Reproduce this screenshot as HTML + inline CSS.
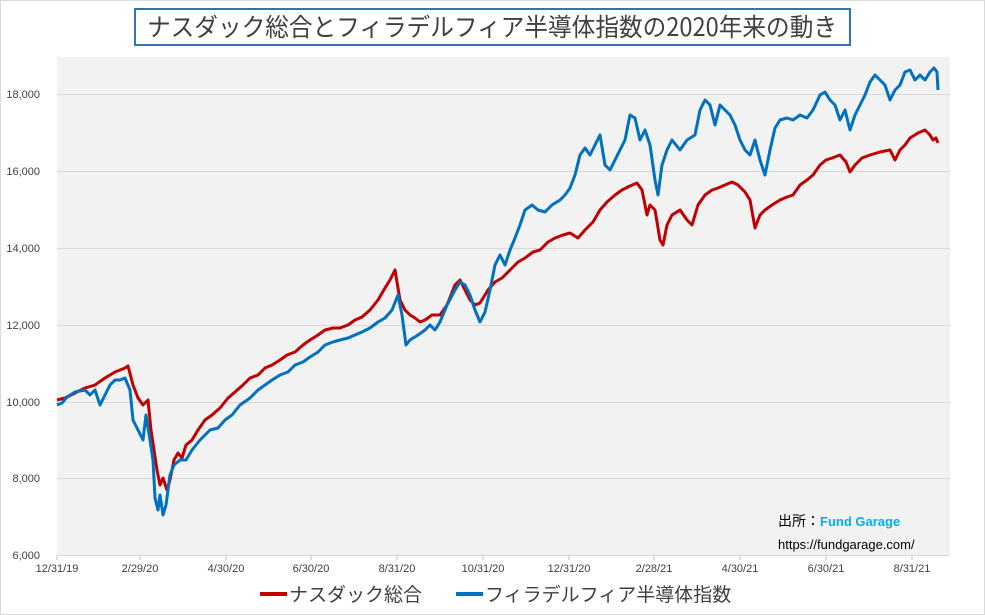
<!DOCTYPE html>
<html><head><meta charset="utf-8"><style>
body{margin:0;background:#fff;}
svg{display:block;font-family:"Liberation Sans","Noto Sans CJK JP",sans-serif;}
</style></head><body>
<svg width="985" height="615" viewBox="0 0 985 615">
<rect x="0.5" y="0.5" width="984" height="614" fill="#fff" stroke="#d9d9d9"/>
<rect x="135" y="9" width="715" height="36" fill="#fff" stroke="#2e75b6" stroke-width="2"/>
<text x="492" y="36" text-anchor="middle" font-size="25" fill="#404040" font-family="'Noto Sans CJK JP','Liberation Sans',sans-serif" textLength="690" lengthAdjust="spacingAndGlyphs">ナスダック総合とフィラデルフィア半導体指数の2020年来の動き</text>
<rect x="57" y="57" width="893" height="498" fill="#f2f2f2"/>
<g stroke="#d9d9d9" stroke-width="1">
<line x1="57" x2="950" y1="478.5" y2="478.5"/><line x1="57" x2="950" y1="402.5" y2="402.5"/>
<line x1="57" x2="950" y1="325.5" y2="325.5"/><line x1="57" x2="950" y1="248.5" y2="248.5"/>
<line x1="57" x2="950" y1="171.5" y2="171.5"/><line x1="57" x2="950" y1="94.5" y2="94.5"/>
<line x1="57" x2="950" y1="555.5" y2="555.5"/>
</g>
<g stroke="#bfbfbf"><line x1="57" y1="555" x2="57" y2="560"/><line x1="140" y1="555" x2="140" y2="560"/><line x1="226" y1="555" x2="226" y2="560"/><line x1="311" y1="555" x2="311" y2="560"/><line x1="397" y1="555" x2="397" y2="560"/><line x1="483" y1="555" x2="483" y2="560"/><line x1="569" y1="555" x2="569" y2="560"/><line x1="654" y1="555" x2="654" y2="560"/><line x1="740" y1="555" x2="740" y2="560"/><line x1="826" y1="555" x2="826" y2="560"/><line x1="912" y1="555" x2="912" y2="560"/></g>
<g font-size="11" fill="#404040" text-anchor="end">
<text x="40" y="559">6,000</text><text x="40" y="482">8,000</text><text x="40" y="406">10,000</text>
<text x="40" y="329">12,000</text><text x="40" y="252">14,000</text><text x="40" y="175">16,000</text><text x="40" y="98">18,000</text>
</g>
<g font-size="11" fill="#404040" text-anchor="middle">
<text x="57" y="572">12/31/19</text><text x="140" y="572">2/29/20</text><text x="226" y="572">4/30/20</text>
<text x="311" y="572">6/30/20</text><text x="397" y="572">8/31/20</text><text x="483" y="572">10/31/20</text>
<text x="569" y="572">12/31/20</text><text x="654" y="572">2/28/21</text><text x="740" y="572">4/30/21</text>
<text x="826" y="572">6/30/21</text><text x="912" y="572">8/31/21</text>
</g>
<polyline fill="none" stroke="#c00000" stroke-width="3" stroke-linejoin="round" points="57,400 65,398 75,393 85,388 95,385 105,378 115,372 125,368 128,366 133,385 138,398 143,405 148,400 151,430 154,450 157,470 160,485 163,478 167,490 170,480 174,460 178,453 182,458 186,445 192,440 198,430 205,420 212,415 220,408 228,398 235,392 243,385 250,378 258,375 265,368 272,365 280,360 287,355 295,352 303,345 310,340 318,335 325,330 333,328 340,328 348,325 355,320 362,317 370,310 378,300 385,288 390,280 395,270 400,300 405,310 410,315 415,318 420,322 425,320 432,315 440,315 447,305 455,285 460,280 465,290 470,300 475,305 480,303 488,290 495,282 502,278 510,270 518,262 525,258 533,252 540,250 548,242 555,238 563,235 570,233 578,238 585,230 593,222 600,210 607,202 615,195 622,190 630,186 637,183 642,190 647,215 650,205 655,210 660,240 663,245 667,225 672,215 680,210 687,220 692,225 698,205 705,195 712,190 718,188 725,185 732,182 738,185 745,192 750,200 755,228 760,215 765,210 772,205 780,200 787,197 793,195 800,185 807,180 813,175 820,165 826,160 832,158 840,155 846,162 850,172 855,165 862,158 870,155 880,152 890,150 895,160 900,150 905,145 910,138 918,133 925,130 930,135 933,140 936,138 938,143"/>
<polyline fill="none" stroke="#0070c0" stroke-width="3" stroke-linejoin="round" points="57,405 62,403 67,397 75,392 85,390 90,395 95,390 100,405 105,395 110,385 115,380 120,380 125,378 130,390 133,420 138,430 143,440 146,415 150,440 153,460 155,498 158,510 160,495 163,515 166,505 170,475 174,465 180,460 186,460 192,450 200,440 210,430 218,428 225,420 232,415 240,405 250,398 258,390 265,385 272,380 280,375 288,372 295,365 303,362 310,357 318,352 325,345 333,342 340,340 348,338 355,335 362,332 370,328 378,322 385,318 392,310 398,295 402,315 406,345 410,340 418,335 425,330 430,325 435,330 440,322 447,305 455,290 460,282 465,285 470,295 475,310 480,322 485,312 490,290 495,265 500,255 505,265 510,250 515,238 520,225 525,210 532,205 538,210 545,212 552,205 560,200 565,195 570,188 575,175 580,155 585,148 590,155 595,145 600,135 605,165 610,170 615,160 620,150 625,140 630,115 635,118 640,140 645,130 650,145 655,180 658,195 662,165 667,150 672,140 680,150 687,140 695,135 700,110 705,100 710,105 715,125 720,105 725,110 730,115 735,125 740,140 745,150 750,155 755,140 760,160 765,175 770,150 775,128 780,120 787,118 793,120 800,115 807,118 813,110 820,95 825,92 830,100 835,105 840,120 845,110 850,130 855,115 860,105 865,95 870,82 875,75 880,80 885,85 890,100 895,90 900,85 905,72 910,70 915,80 920,75 925,80 930,72 934,68 937,72 938,90"/>
<text x="778" y="526" font-size="14" fill="#000">出所：<tspan fill="#00b0f0" font-weight="bold" font-size="13">Fund Garage</tspan></text>
<text x="778" y="549" font-size="13" fill="#000">https://fundgarage.com/</text>
<line x1="260" y1="594" x2="287" y2="594" stroke="#c00000" stroke-width="4"/>
<text x="289" y="601" font-size="19" fill="#404040">ナスダック総合</text>
<line x1="456" y1="594" x2="483" y2="594" stroke="#0070c0" stroke-width="4"/>
<text x="485" y="601" font-size="19" fill="#404040">フィラデルフィア半導体指数</text>
</svg>
</body></html>
